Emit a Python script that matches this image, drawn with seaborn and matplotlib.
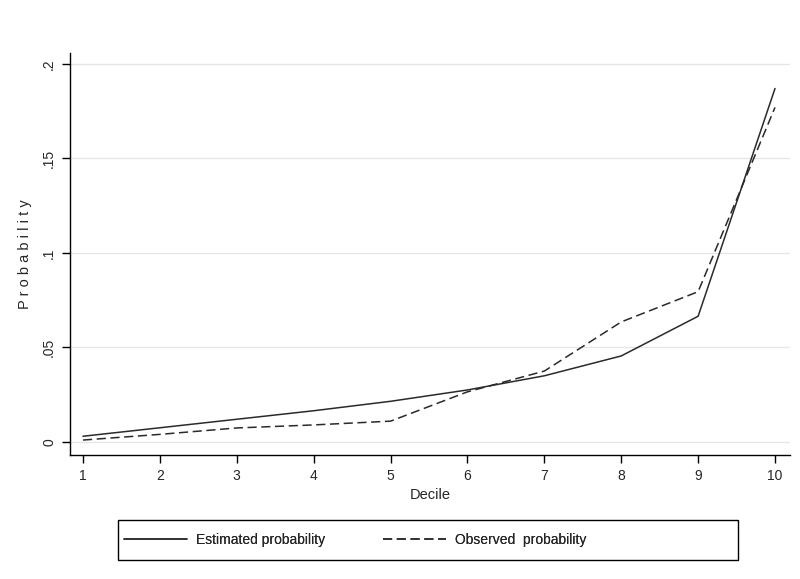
import numpy as np
import pandas as pd
import matplotlib.pyplot as plt
import seaborn as sns

# values
deciles = [1, 2, 3, 4, 5, 6, 7, 8, 9, 10]
estimated = [0.003, 0.0075, 0.012, 0.0165, 0.0215, 0.0275, 0.035, 0.0455, 0.0665, 0.187]
observed = [0.001, 0.004, 0.0074, 0.009, 0.011, 0.0265, 0.0375, 0.0635, 0.0795, 0.177]
y_ticks = [0, 0.05, 0.1, 0.15, 0.2]
y_tick_labels = ["0", ".05", ".1", ".15", ".2"]
series_names = ["Estimated probability", "Observed  probability"]

df = pd.DataFrame({
    "Decile": deciles * 2,
    "Probability": estimated + observed,
    "series": [series_names[0]] * 10 + [series_names[1]] * 10,
})

sns.set_style("white")
plt.rcParams['font.family'] = ['Liberation Sans', 'DejaVu Sans']

fig = plt.figure(figsize=(8, 5.79), dpi=100)
ax = fig.add_axes([0.0875, 0.2142, 0.9, 0.6943])

line_color = "#2a2a2a"
sns.lineplot(data=df, x="Decile", y="Probability", style="series",
             dashes={series_names[0]: "", series_names[1]: (6, 3)},
             color=line_color, linewidth=1.1, ax=ax, legend=False)

ax.set_xlim(0.831, 10.195)
ax.set_ylim(-0.0069, 0.2058)
ax.set_xticks(deciles)
ax.set_yticks(y_ticks)
ax.set_yticklabels(y_tick_labels, rotation=90, va="center")
ax.grid(axis="y", color="#e6e6e6", linewidth=1)
ax.set_axisbelow(True)

for s in ["top", "right"]:
    ax.spines[s].set_visible(False)
for s in ["left", "bottom"]:
    ax.spines[s].set_color("black")
    ax.spines[s].set_linewidth(1)

ax.tick_params(axis="both", direction="out", length=6, width=1, color="black",
               labelsize=10, left=True, bottom=True, pad=4)
ax.set_xlabel("Decile", fontsize=10.5, labelpad=4)
ax.set_ylabel("P r o b a b i l i t y", fontsize=10.5, labelpad=7)

# legend: one framed box below the plot, two entries placed inside it
fig.add_artist(plt.Rectangle((118 / 800, 1 - 560 / 579), 620 / 800, 40 / 579,
                             transform=fig.transFigure, fill=False,
                             edgecolor="black", linewidth=1))
h1 = plt.Line2D([], [], color=line_color, linewidth=1.1)
h2 = plt.Line2D([], [], color=line_color, linewidth=1.1, dashes=(6, 3))
for handle, name, x0 in [(h1, series_names[0], 124), (h2, series_names[1], 383)]:
    leg = fig.legend([handle], [name], loc="center left",
                     bbox_to_anchor=(x0 / 800, 1 - 540 / 579),
                     frameon=False, handlelength=4.5, handletextpad=0.7,
                     fontsize=10, borderpad=0, borderaxespad=0)
    fig.add_artist(leg)

fig.savefig("out.png", dpi=100, facecolor="white")
